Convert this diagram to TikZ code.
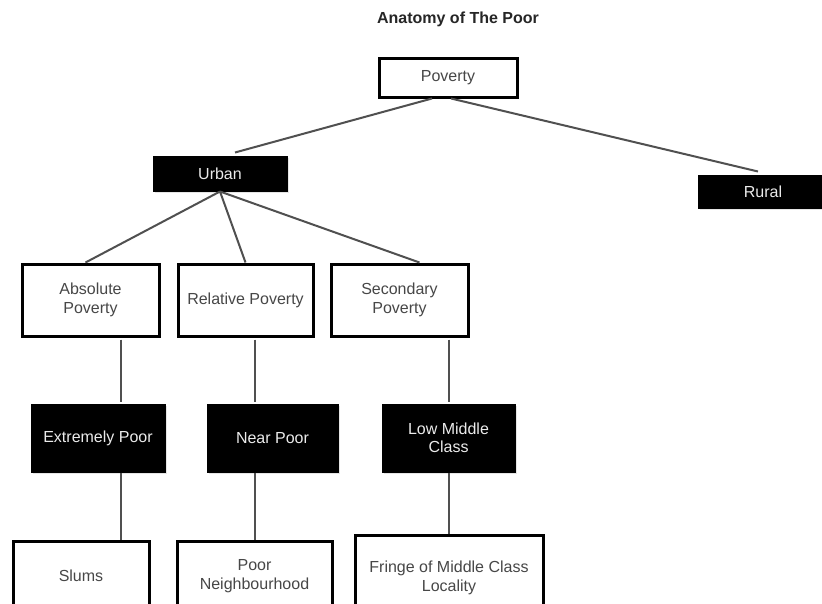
\documentclass[tikz,border=0pt]{standalone}
\usepackage{fontspec}
\setmainfont{Liberation Sans}
\usetikzlibrary{shadows}
\definecolor{inkgray}{HTML}{474747}
\definecolor{wiregray}{HTML}{505050}
\tikzset{
  boxfont/.style={font=\fontsize{16}{18.5}\selectfont},
  whitebox/.style={draw=black, line width=3pt, fill=white, text=inkgray,
    boxfont, align=center, inner sep=2pt},
  blackbox/.style={draw=black, line width=1pt, fill=black, text=white!92!black,
    boxfont, align=center, inner sep=2pt,
    drop shadow={opacity=0.2, shadow xshift=1.5pt, shadow yshift=-2pt}},
  wire/.style={draw=wiregray, line width=2pt},
}
\begin{document}
\begin{tikzpicture}[x=1pt, y=-1pt]
  \useasboundingbox[fill=white] (0,0) rectangle (822,603);

  \node[font=\bfseries\fontsize{16}{19}\selectfont, text=black!85] (title) at (458,19) {Anatomy of The Poor};

  % top level
  \node[whitebox, minimum width=138pt, minimum height=39pt] (poverty) at (448,77.5) {Poverty};
  \node[blackbox, minimum width=134pt, minimum height=35pt] (urban) at (220,173.5) {Urban};
  \node[blackbox, minimum width=130pt, minimum height=33pt] (rural) at (763,191.5) {Rural};

  % kinds of urban poverty
  \node[whitebox, minimum width=137pt, minimum height=72pt] (absp) at (90.5,300) {Absolute\\Poverty};
  \node[whitebox, minimum width=135pt, minimum height=72pt] (relp) at (245.5,300) {Relative Poverty};
  \node[whitebox, minimum width=137pt, minimum height=72pt] (secp) at (399.5,300) {Secondary\\Poverty};

  % income groups
  \node[blackbox, minimum width=134pt, minimum height=68pt] (extp) at (98,438) {Extremely Poor};
  \node[blackbox, minimum width=131pt, minimum height=68pt] (nearp) at (272.5,438) {Near Poor};
  \node[blackbox, minimum width=133pt, minimum height=68pt] (lowm) at (448.5,438) {Low Middle\\Class};

  % living areas (cut off by the lower edge of the page)
  \node[whitebox, minimum width=136pt, minimum height=70pt] (slums) at (81,576) {Slums};
  \node[whitebox, minimum width=155pt, minimum height=70pt] (poorn) at (254.5,576) {Poor\\Neighbourhood};
  \node[whitebox, minimum width=188pt, minimum height=86pt] (fringe) at (449,578) {Fringe of Middle Class\\Locality};

  % columns of the vertical links
  \coordinate (colA) at (121,0);
  \coordinate (colB) at (255,0);
  \coordinate (colC) at (449,0);

  % links
  \draw[wire] ([xshift=-16pt]poverty.south) -- ([xshift=15pt,yshift=3pt]urban.north);
  \draw[wire] ([xshift=3pt]poverty.south) -- ([xshift=-5pt,yshift=3pt]rural.north);

  \draw[wire] (urban.south) -- ([xshift=-5pt]absp.north);
  \draw[wire] (urban.south) -- (relp.north);
  \draw[wire] (urban.south) -- ([xshift=20pt]secp.north);

  \draw[wire] ([yshift=-2pt]absp.south -| colA) -- ([yshift=2pt]extp.north -| colA);
  \draw[wire] ([yshift=-2pt]relp.south -| colB) -- ([yshift=2pt]nearp.north -| colB);
  \draw[wire] ([yshift=-2pt]secp.south -| colC) -- ([yshift=2pt]lowm.north -| colC);

  \draw[wire] (extp.south -| colA) -- (slums.north -| colA);
  \draw[wire] (nearp.south -| colB) -- (poorn.north -| colB);
  \draw[wire] (lowm.south -| colC) -- (fringe.north -| colC);
\end{tikzpicture}
\end{document}
